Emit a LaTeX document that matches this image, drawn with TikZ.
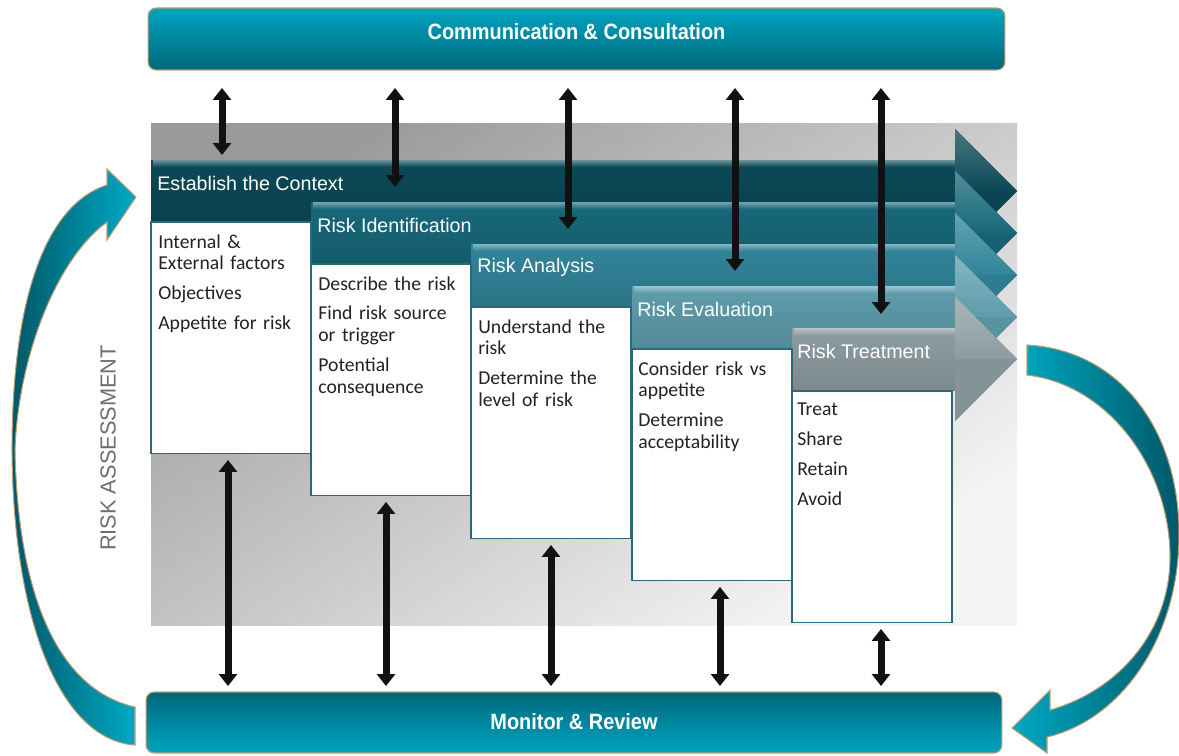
\documentclass[tikz,border=0pt]{standalone}
\usepackage{fontspec}
\setmainfont{Liberation Sans}
\newfontfamily\boxfont{Carlito}
\newfontfamily\titlefont[FakeStretch=0.9]{Liberation Sans}
\usetikzlibrary{arrows.meta,calc}
\definecolor{commtop}{HTML}{00A5C1}
\definecolor{commbot}{HTML}{00687A}
\definecolor{tanb}{HTML}{BC9E74}
\definecolor{c1}{HTML}{0B4956}
\definecolor{c2}{HTML}{17687A}
\definecolor{c3}{HTML}{318499}
\definecolor{c4}{HTML}{5E9CAC}
\definecolor{c5}{HTML}{8D9CA1}
\definecolor{boxedge}{HTML}{2A6A76}
\definecolor{txt}{HTML}{222222}
\definecolor{ragray}{HTML}{6E6E6E}
\definecolor{bgdark}{HTML}{9A9A9A}
\definecolor{bglight}{HTML}{F4F4F4}
\definecolor{arrowk}{HTML}{111111}
\definecolor{cdark}{HTML}{005867}
\definecolor{clight}{HTML}{00A9C4}
\begin{document}
\begin{tikzpicture}[x=0.02cm,y=-0.02cm,
  topbar/.style={draw=tanb, line width=0.6pt, rounded corners=0.16cm,
    minimum width=17.14cm, minimum height=1.24cm, inner sep=0pt, outer sep=0pt},
  titletext/.style={text=white, inner sep=0pt, font=\titlefont\bfseries\fontsize{12.6}{14}\selectfont},
  wbox/.style={draw=boxedge, fill=white, line width=0.9pt, minimum width=3.2cm,
    minimum height=4.63cm, anchor=north west, inner sep=0pt, outer sep=0pt},
  btext/.style={font=\boxfont\fontsize{11.2}{12.5}\selectfont, text=txt,
    align=left, anchor=north west, inner sep=0pt, text width=3.1cm},
  blabel/.style={font=\fontsize{11.2}{13}\selectfont, text=white, anchor=west, inner sep=0pt},
  dbl/.style={draw=arrowk, line width=0.14cm,
    {Triangle[width=0.36cm,length=0.24cm]}-{Triangle[width=0.36cm,length=0.24cm]}},
  curvearrow/.style={draw=tanb, line width=0.6pt}
]
\useasboundingbox (0,0) rectangle (1179,755);
% grey background
\shade[top color=bgdark, bottom color=bglight, shading angle=34] (151,123) rectangle (1017,625);
% stair bands with arrow heads
\foreach \x/\t/\c in {151/160/c1, 311/202/c2, 471/244/c3, 632/286/c4, 792/328/c5}{
  \fill[\c] (\x,\t) -- (955,\t) -- (955,\t-31) -- (1017,\t+31) -- (955,\t+93) -- (955,\t+62) -- (\x,\t+62) -- cycle;
  \shade[top color=\c, bottom color=\c!88!black] (\x,\t+4) rectangle (955,\t+62);
  \shade[top color=\c!60!white, bottom color=\c] (\x+2,\t) rectangle (955,\t+7);
  \shade[top color=\c!75!white, bottom color=\c] (955,\t-31) -- (1017,\t+31) -- (955,\t+31) -- cycle;
  \fill[\c!94!black] (955,\t+31) -- (1017,\t+31) -- (955,\t+93) -- cycle;
}
% band labels
\node[blabel] (l1) at (157,183) {Establish the Context};
\node[blabel] (l2) at (317,225) {Risk Identification};
\node[blabel] (l3) at (477,267) {Risk Analysis};
\node[blabel] (l4) at (637,309) {Risk Evaluation};
\node[blabel] (l5) at (797,351) {Risk Treatment};
% white boxes
\node[wbox] (bx1) at (151,222) {};
\node[wbox] (bx2) at (311,264) {};
\node[wbox] (bx3) at (471,307) {};
\node[wbox] (bx4) at (632,349) {};
\node[wbox] (bx5) at (792,391) {};
\node[btext] (t1) at ($(bx1.north west)+(7,12)$) {Internal \&\\External factors\\[4.5pt]Objectives\\[4.5pt]Appetite for risk};
\node[btext] (t2) at ($(bx2.north west)+(7,12)$) {Describe the risk\\[4.5pt]Find risk source\\or trigger\\[4.5pt]Potential\\consequence};
\node[btext] (t3) at ($(bx3.north west)+(7,12)$) {Understand the\\risk\\[4.5pt]Determine the\\level of risk};
\node[btext] (t4) at ($(bx4.north west)+(6,12)$) {Consider risk vs\\appetite\\[4.5pt]Determine\\acceptability};
\node[btext] (t5) at ($(bx5.north west)+(5,12)$) {Treat\\[4.5pt]Share\\[4.5pt]Retain\\[4.5pt]Avoid};
% top and bottom bars
\node[topbar, top color=commtop, bottom color=commbot] (comm) at (576.5,39) {};
\node[titletext] (commlbl) at ($(comm.center)+(0,-7)$) {Communication \& Consultation};
\node[topbar, top color=commbot, bottom color=commtop, minimum width=17.12cm, minimum height=1.22cm] (mon) at (574,722.5) {};
\node[titletext] (monlbl) at ($(mon.center)+(0,-1)$) {Monitor \& Review};
% top double arrows
\coordinate (e1) at (222,155);
\coordinate (e2) at (395,187);
\coordinate (e3) at (568,229);
\coordinate (e4) at (735,271);
\coordinate (e5) at (881,314);
\foreach \i in {1,...,5}{
  \draw[dbl, shorten <=0.36cm] (comm.south -| e\i) -- (e\i);
}
% bottom double arrows
\coordinate (f1) at (228,0);
\coordinate (f2) at (386,0);
\coordinate (f3) at (551,0);
\coordinate (f4) at (720,0);
\coordinate (f5) at (881,0);
\foreach \i in {1,...,5}{
  \draw[dbl, shorten <=0.13cm, shorten >=0.12cm] (bx\i.south -| f\i) -- (mon.north -| f\i);
}
% left curved arrow
\shadedraw[curvearrow, left color=cdark, right color=clight]
  (135,707) .. controls (60,690) and (18,600) .. (15,450)
  .. controls (18,360) and (55,260) .. (107,222) -- (107,240) -- (136,197) -- (107,169) -- (107,185)
  .. controls (45,205) and (12,300) .. (12,450)
  .. controls (13,620) and (60,740) .. (135,745) -- cycle;
% right curved arrow
\shadedraw[curvearrow, left color=clight, right color=cdark]
  (1027,345) .. controls (1120,350) and (1180,430) .. (1179,537)
  .. controls (1178,640) and (1120,720) .. (1047,737) -- (1047,753) -- (1012,728) -- (1050,690) -- (1050,710)
  .. controls (1120,690) and (1170,630) .. (1170,557)
  .. controls (1170,470) and (1110,385) .. (1027,375) -- cycle;
% side label
\node[rotate=90, text=ragray, font=\fontsize{12.4}{14}\selectfont, inner sep=0pt] (ra) at (108,448) {RISK ASSESSMENT};
\end{tikzpicture}
\end{document}
